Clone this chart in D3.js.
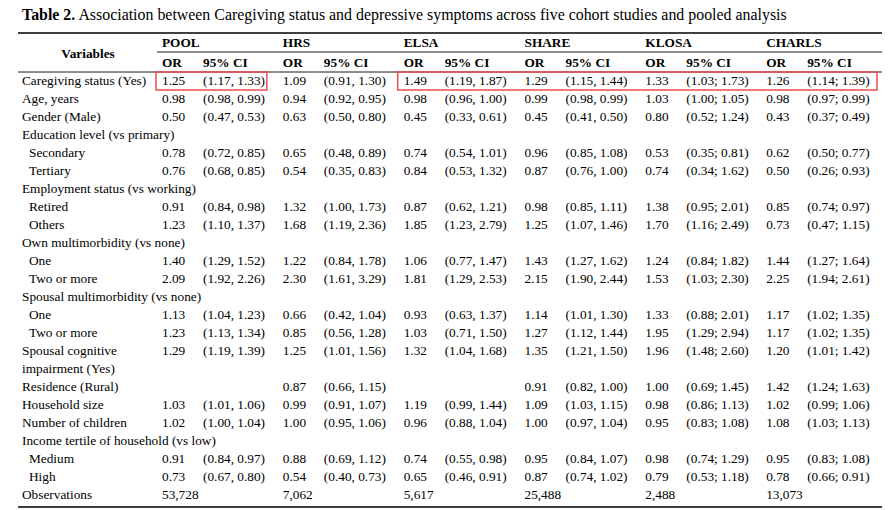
<!DOCTYPE html>
<html>
<head>
<meta charset="utf-8">
<script src="https://cdn.jsdelivr.net/npm/d3@7"></script>
<style>
  body { margin: 0; background: #fff; }
  text { font-family: "Liberation Serif", "Times New Roman", serif; fill: #000; }
</style>
</head>
<body>
<div id="chart"></div>
<script>
// ---- table contents ----
const cohorts = ['POOL', 'HRS', 'ELSA', 'SHARE', 'KLOSA', 'CHARLS'];

const rowLabels = [
    'Caregiving status (Yes)', 'Age, years', 'Gender (Male)',
    'Education level (vs primary)', 'Secondary', 'Tertiary',
    'Employment status (vs working)', 'Retired', 'Others',
    'Own multimorbidity (vs none)', 'One', 'Two or more',
    'Spousal multimorbidity (vs none)', 'One', 'Two or more',
    'Spousal cognitive|impairment (Yes)', 'Residence (Rural)', 'Household size',
    'Number of children', 'Income tertile of household (vs low)', 'Medium', 'High',
    'Observations'
];
// 1 = indented sub-category
const rowIndent = [0, 0, 0, 0, 1, 1, 0, 1, 1, 0, 1, 1, 0, 1, 1, 0, 0, 0, 0, 0, 1, 1, 0];

const poolOR = ['1.25', '0.98', '0.50', '', '0.78', '0.76', '', '0.91', '1.23', '', '1.40', '2.09', '', '1.13', '1.23', '1.29', '', '1.03', '1.02', '', '0.91', '0.73', '53,728'];
const poolCI = ['(1.17, 1.33)', '(0.98, 0.99)', '(0.47, 0.53)', '', '(0.72, 0.85)', '(0.68, 0.85)', '', '(0.84, 0.98)', '(1.10, 1.37)', '', '(1.29, 1.52)', '(1.92, 2.26)', '', '(1.04, 1.23)', '(1.13, 1.34)', '(1.19, 1.39)', '', '(1.01, 1.06)', '(1.00, 1.04)', '', '(0.84, 0.97)', '(0.67, 0.80)', ''];

const hrsOR = ['1.09', '0.94', '0.63', '', '0.65', '0.54', '', '1.32', '1.68', '', '1.22', '2.30', '', '0.66', '0.85', '1.25', '0.87', '0.99', '1.00', '', '0.88', '0.54', '7,062'];
const hrsCI = ['(0.91, 1.30)', '(0.92, 0.95)', '(0.50, 0.80)', '', '(0.48, 0.89)', '(0.35, 0.83)', '', '(1.00, 1.73)', '(1.19, 2.36)', '', '(0.84, 1.78)', '(1.61, 3.29)', '', '(0.42, 1.04)', '(0.56, 1.28)', '(1.01, 1.56)', '(0.66, 1.15)', '(0.91, 1.07)', '(0.95, 1.06)', '', '(0.69, 1.12)', '(0.40, 0.73)', ''];

const elsaOR = ['1.49', '0.98', '0.45', '', '0.74', '0.84', '', '0.87', '1.85', '', '1.06', '1.81', '', '0.93', '1.03', '1.32', '', '1.19', '0.96', '', '0.74', '0.65', '5,617'];
const elsaCI = ['(1.19, 1.87)', '(0.96, 1.00)', '(0.33, 0.61)', '', '(0.54, 1.01)', '(0.53, 1.32)', '', '(0.62, 1.21)', '(1.23, 2.79)', '', '(0.77, 1.47)', '(1.29, 2.53)', '', '(0.63, 1.37)', '(0.71, 1.50)', '(1.04, 1.68)', '', '(0.99, 1.44)', '(0.88, 1.04)', '', '(0.55, 0.98)', '(0.46, 0.91)', ''];

const shareOR = ['1.29', '0.99', '0.45', '', '0.96', '0.87', '', '0.98', '1.25', '', '1.43', '2.15', '', '1.14', '1.27', '1.35', '0.91', '1.09', '1.00', '', '0.95', '0.87', '25,488'];
const shareCI = ['(1.15, 1.44)', '(0.98, 0.99)', '(0.41, 0.50)', '', '(0.85, 1.08)', '(0.76, 1.00)', '', '(0.85, 1.11)', '(1.07, 1.46)', '', '(1.27, 1.62)', '(1.90, 2.44)', '', '(1.01, 1.30)', '(1.12, 1.44)', '(1.21, 1.50)', '(0.82, 1.00)', '(1.03, 1.15)', '(0.97, 1.04)', '', '(0.84, 1.07)', '(0.74, 1.02)', ''];

const klosaOR = ['1.33', '1.03', '0.80', '', '0.53', '0.74', '', '1.38', '1.70', '', '1.24', '1.53', '', '1.33', '1.95', '1.96', '1.00', '0.98', '0.95', '', '0.98', '0.79', '2,488'];
const klosaCI = ['(1.03; 1.73)', '(1.00; 1.05)', '(0.52; 1.24)', '', '(0.35; 0.81)', '(0.34; 1.62)', '', '(0.95; 2.01)', '(1.16; 2.49)', '', '(0.84; 1.82)', '(1.03; 2.30)', '', '(0.88; 2.01)', '(1.29; 2.94)', '(1.48; 2.60)', '(0.69; 1.45)', '(0.86; 1.13)', '(0.83; 1.08)', '', '(0.74; 1.29)', '(0.53; 1.18)', ''];

const charlsOR = ['1.26', '0.98', '0.43', '', '0.62', '0.50', '', '0.85', '0.73', '', '1.44', '2.25', '', '1.17', '1.17', '1.20', '1.42', '1.02', '1.08', '', '0.95', '0.78', '13,073'];
const charlsCI = ['(1.14; 1.39)', '(0.97; 0.99)', '(0.37; 0.49)', '', '(0.50; 0.77)', '(0.26; 0.93)', '', '(0.74; 0.97)', '(0.47; 1.15)', '', '(1.27; 1.64)', '(1.94; 2.61)', '', '(1.02; 1.35)', '(1.02; 1.35)', '(1.01; 1.42)', '(1.24; 1.63)', '(0.99; 1.06)', '(1.03; 1.13)', '', '(0.83; 1.08)', '(0.66; 0.91)', ''];

// cohorts whose caregiving row is boxed in red
const highlightGroups = [['POOL'], ['ELSA', 'SHARE', 'KLOSA', 'CHARLS']];

const valueOR = { POOL: poolOR, HRS: hrsOR, ELSA: elsaOR, SHARE: shareOR, KLOSA: klosaOR, CHARLS: charlsOR };
const valueCI = { POOL: poolCI, HRS: hrsCI, ELSA: elsaCI, SHARE: shareCI, KLOSA: klosaCI, CHARLS: charlsCI };

// ---- layout ----
const W = 892, H = 510;
const left = 18, right = 882;
const fs = 13.3;

const svg = d3.select('#chart').append('svg')
    .attr('width', W).attr('height', H);

// a label with "|" wraps onto a second line, which pushes later rows down
const lineIndex = [];
let ln = 0;
rowLabels.forEach(l => { lineIndex.push(ln); ln += l.split('|').length; });

const y = d3.scaleLinear().domain([0, ln - 1]).range([85, 499]);   // baselines
const x = d3.scaleBand().domain(cohorts).range([157, right]);

// title
const title = svg.append('text').attr('x', 22).attr('y', 20).style('font-size', '15.9px');
title.append('tspan').attr('font-weight', 'bold').text('Table 2.');
title.append('tspan').text(' Association between Caregiving status and depressive symptoms across five cohort studies and pooled analysis');

// rules
svg.append('line').attr('x1', left).attr('x2', right).attr('y1', 33).attr('y2', 33)
    .attr('stroke', '#000').attr('stroke-width', 1.6);
svg.append('line').attr('x1', x.range()[0]).attr('x2', right).attr('y1', 52).attr('y2', 52)
    .attr('stroke', '#000').attr('stroke-width', 0.9);
svg.append('line').attr('x1', left).attr('x2', right).attr('y1', 72).attr('y2', 72)
    .attr('stroke', '#000').attr('stroke-width', 0.9);
svg.append('line').attr('x1', left).attr('x2', right).attr('y1', 507).attr('y2', 507)
    .attr('stroke', '#000').attr('stroke-width', 1.6);

// header
svg.append('text').attr('x', 88).attr('y', 58).attr('text-anchor', 'middle')
    .attr('font-weight', 'bold').style('font-size', fs + 'px').text('Variables');

const head = svg.selectAll('g.head').data(cohorts).join('g')
    .attr('class', 'head')
    .attr('transform', d => `translate(${x(d) + 5},0)`)
    .style('font-size', fs + 'px').attr('font-weight', 'bold');
head.append('text').attr('y', 47).text(d => d);
head.append('text').attr('y', 67).text('OR');
head.append('text').attr('x', 41).attr('y', 67).text('95% CI');

// row labels
rowLabels.forEach((l, i) => {
    l.split('|').forEach((part, k) => {
        svg.append('text')
            .attr('x', rowIndent[i] ? 29 : 22)
            .attr('y', y(lineIndex[i] + k))
            .style('font-size', fs + 'px')
            .text(part);
    });
});

// values
cohorts.forEach(c => {
    const g = svg.append('g').style('font-size', fs + 'px');
    g.selectAll('text.or').data(valueOR[c]).join('text')
        .attr('class', 'or')
        .attr('x', x(c) + 5)
        .attr('y', (d, i) => y(lineIndex[i]))
        .text(d => d);
    g.selectAll('text.ci').data(valueCI[c]).join('text')
        .attr('class', 'ci')
        .attr('x', x(c) + 46)
        .attr('y', (d, i) => y(lineIndex[i]))
        .text(d => d);
});

// red highlight boxes on the caregiving row
const boxTop = y(0) - 13, boxH = 18;
highlightGroups.forEach(grp => {
    const first = grp[0], last = grp[grp.length - 1];
    const x0 = x(first) - 1;
    const x1 = last === cohorts[cohorts.length - 1] ? right - 5 : x(last) + x.bandwidth() - 11;
    svg.append('rect')
        .attr('x', x0).attr('y', boxTop)
        .attr('width', x1 - x0).attr('height', boxH)
        .attr('fill', 'none').attr('stroke', '#ec4b4f').attr('stroke-width', 1.5);
});
</script>
</body>
</html>
